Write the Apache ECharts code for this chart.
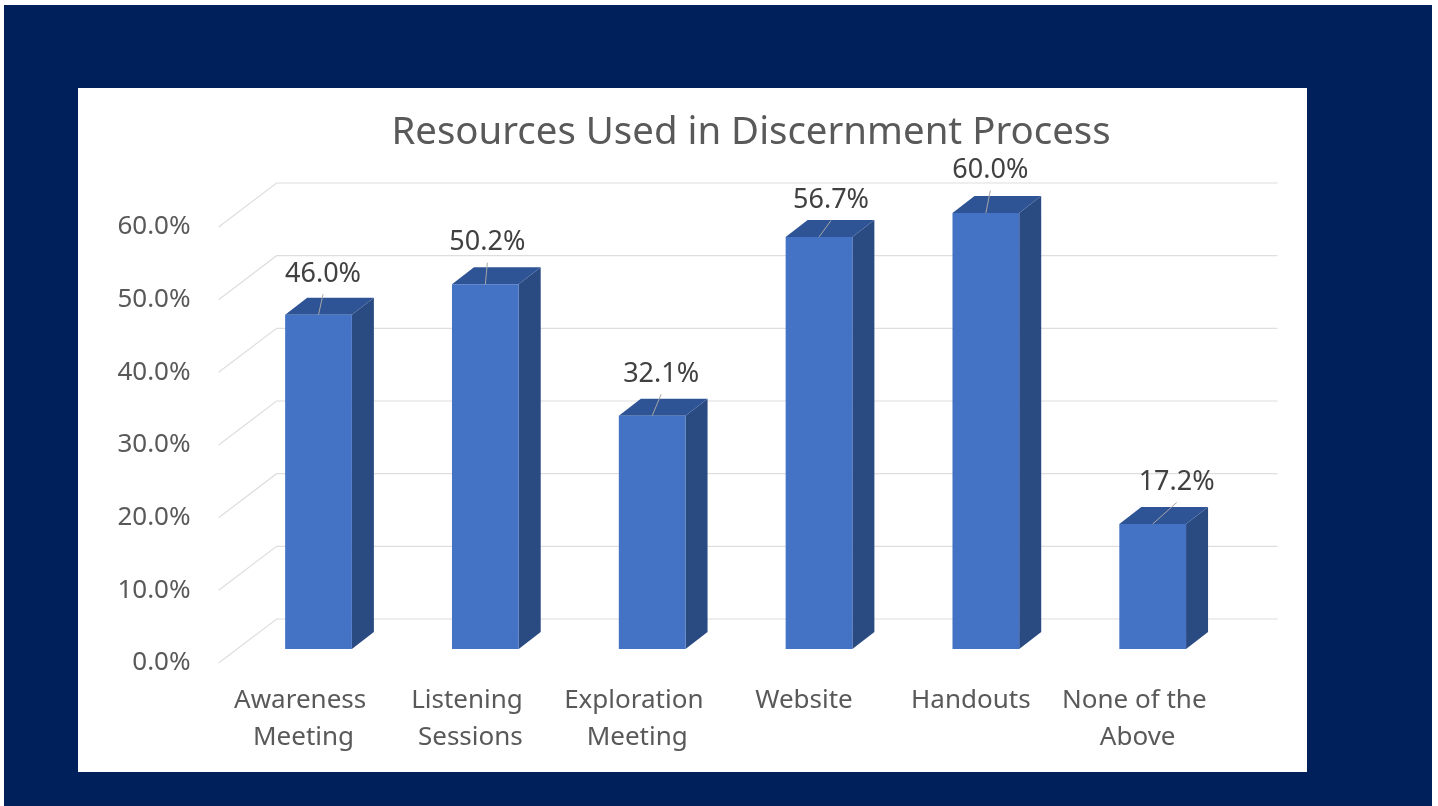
<!DOCTYPE html>
<html>
<head>
<meta charset="utf-8">
<title>Resources Used in Discernment Process</title>
<script src="https://cdn.jsdelivr.net/npm/echarts@6/dist/echarts.min.js"></script>
<style>
  html, body { margin: 0; padding: 0; width: 100%; height: 100%; background: #fff; overflow: hidden; }
  #navy { position: absolute; left: 4px; top: 5px; width: 1428px; height: 801px; background: #00205c; }
  #panel { position: absolute; left: 78px; top: 88px; width: 1229px; height: 684px; background: #fff; }
  #main { position: absolute; left: 0; top: 0; width: 1438px; height: 806px; }
</style>
</head>
<body>
<div id="navy"></div>
<div id="panel"></div>
<div id="main"></div>
<script>
var categories = ["Awareness Meeting", "Listening Sessions", "Exploration Meeting", "Website", "Handouts", "None of the Above"];
var values = [46.0, 50.2, 32.1, 56.7, 60.0, 17.2];
var yTicks = [0, 10, 20, 30, 40, 50, 60];
// where each data label was dragged to, relative to the top of its bar
var labelShiftX = [4.5, 2, 9, 12, 4.5, 24];
var labelShiftY = [-40.5, -41.5, -41.5, -36.5, -42.5, -41.5];

// fake 3D: offset from the front of the box to the back wall, and where the bars sit between them
var depthX = 58, depthY = -44;
var barFrontX = 16.5, barFrontY = -14;
var barDepthX = 22, barDepthY = -17;

function pct(v) {
  return v.toFixed(1) + "%";
}

// gridline on back wall + diagonal on the side wall
function renderWall(params, api) {
  var band = api.size([1, 0])[0];
  var first = api.coord([0, api.value(0)]);
  var left = first[0] - band / 2;
  var y = first[1];
  return {
    type: "polyline",
    silent: true,
    shape: { points: [
      [left, y],
      [left + depthX, y + depthY],
      [left + band * categories.length + depthX, y + depthY]
    ] },
    style: { fill: null, stroke: "#dedede", lineWidth: 1.2 }
  };
}

function renderBar(params, api) {
  var i = api.value(0);
  var base = api.coord([i, 0]);
  var top = api.coord([i, api.value(1)]);
  var w = api.size([1, 0])[0] * 0.4;
  var x0 = base[0] - w / 2 + barFrontX;
  var x1 = x0 + w;
  var yb = base[1] + barFrontY;
  var yt = top[1] + barFrontY;
  var cx = (x0 + x1) / 2;
  var lx = cx + labelShiftX[i];
  var ly = yt + labelShiftY[i];
  return {
    type: "group",
    children: [
      { type: "polygon", shape: { points: [[x1, yb], [x1 + barDepthX, yb + barDepthY], [x1 + barDepthX, yt + barDepthY], [x1, yt]] },
        style: { fill: "#2a4a82" } },
      { type: "polygon", shape: { points: [[x0, yt], [x1, yt], [x1 + barDepthX, yt + barDepthY], [x0 + barDepthX, yt + barDepthY]] },
        style: { fill: "#2f5496" } },
      { type: "rect", shape: { x: x0, y: yt, width: w, height: yb - yt },
        style: { fill: "#4472c4" } },
      { type: "line", shape: { x1: cx, y1: yt, x2: lx, y2: ly + 20 },
        style: { stroke: "#a6a6a6", lineWidth: 1 } },
      { type: "text", style: { text: pct(api.value(1)), x: lx, y: ly, align: "center", verticalAlign: "middle",
        fill: "#404040", font: "27px 'Noto Sans'" } }
    ]
  };
}

var myChart = echarts.init(document.getElementById("main"));
myChart.setOption({
  animation: false,
  backgroundColor: "transparent",
  title: {
    text: "Resources Used in Discernment Process",
    left: 746,
    top: 109,
    textAlign: "center",
    textStyle: { color: "#595959", fontSize: 38.4, fontWeight: "normal", fontFamily: "Noto Sans" }
  },
  grid: { left: 218.6, top: 227, width: 1001, height: 436 },
  xAxis: {
    type: "category",
    data: categories,
    axisLine: { show: false },
    axisTick: { show: false },
    axisLabel: {
      interval: 0,
      margin: 19,
      width: 160,
      overflow: "break",
      lineHeight: 37,
      padding: [0, 0, 0, 3],
      color: "#595959",
      fontSize: 26,
      fontFamily: "Noto Sans"
    }
  },
  yAxis: {
    type: "value",
    min: 0,
    max: 60,
    interval: 10,
    axisLine: { show: false },
    axisTick: { show: false },
    splitLine: { show: false },
    axisLabel: {
      margin: 28,
      padding: [4, 0, 0, 0],
      color: "#595959",
      fontSize: 26,
      fontFamily: "Noto Sans",
      formatter: pct
    }
  },
  series: [
    {
      type: "custom",
      name: "wall",
      clip: false,
      z: 1,
      silent: true,
      encode: { y: 0 },
      data: yTicks.map(function (t) { return [t]; }),
      renderItem: renderWall
    },
    {
      type: "custom",
      name: "Resources",
      clip: false,
      z: 2,
      encode: { x: 0, y: 1 },
      data: values.map(function (v, i) { return [i, v]; }),
      renderItem: renderBar
    }
  ]
});
</script>
</body>
</html>
